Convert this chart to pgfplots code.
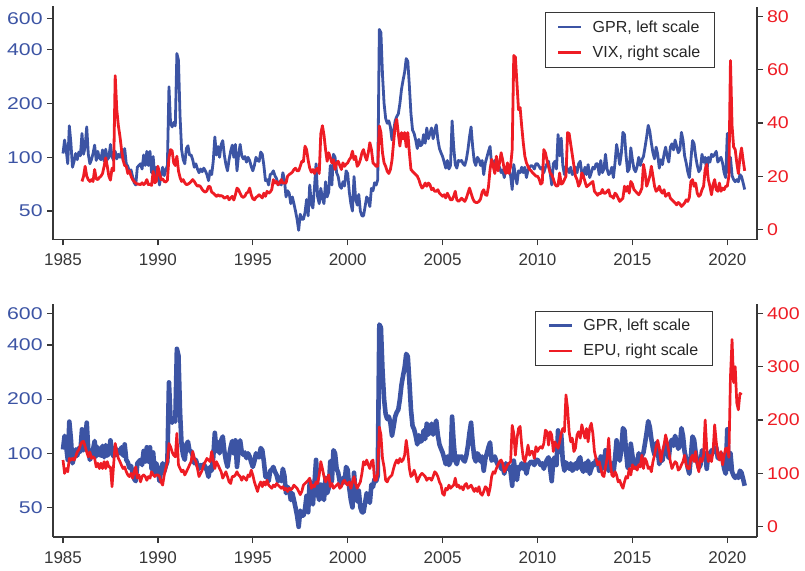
\documentclass[border=0pt]{standalone}
\usepackage{fontspec}
\setmainfont{Liberation Sans}
\usepackage{pgfplots}
\usepackage{pgfplotstable}
\pgfplotsset{compat=1.18}
\definecolor{gprblue}{RGB}{60,84,164}
\definecolor{vixred}{RGB}{238,28,36}
\definecolor{axgray}{RGB}{55,55,55}

% GPR index, monthly, Jan 1985 - Dec 2020
\pgfplotstableread[row sep=\\, header=false]{
105\\125\\110\\92\\150\\120\\88\\95\\105\\97\\107\\102\\
136\\104\\115\\148\\104\\92\\97\\105\\117\\96\\108\\99\\
97\\110\\95\\111\\97\\100\\118\\101\\96\\108\\98\\104\\
100\\108\\97\\112\\92\\89\\83\\85\\78\\72\\70\\88\\
90\\92\\86\\103\\90\\108\\90\\108\\82\\101\\78\\88\\
81\\70\\80\\88\\79\\85\\90\\248\\155\\148\\157\\150\\
381\\350\\170\\110\\97\\92\\112\\116\\103\\103\\97\\88\\
92\\86\\82\\86\\83\\87\\84\\80\\74\\84\\80\\95\\
130\\103\\115\\100\\118\\124\\103\\91\\84\\97\\108\\117\\
100\\118\\84\\103\\118\\102\\98\\101\\94\\100\\96\\89\\
84\\90\\100\\96\\95\\107\\104\\90\\74\\75\\70\\80\\
81\\84\\79\\76\\70\\73\\70\\82\\75\\60\\65\\63\\
55\\60\\55\\50\\45\\39\\48\\45\\45\\49\\58\\47\\
70\\55\\52\\68\\92\\60\\55\\67\\59\\55\\73\\60\\
64\\90\\70\\104\\100\\82\\78\\69\\67\\73\\69\\84\\
81\\64\\55\\50\\78\\59\\54\\62\\50\\47\\47\\53\\
60\\58\\53\\67\\65\\72\\70\\75\\520\\500\\290\\200\\
165\\155\\160\\148\\125\\140\\160\\169\\175\\200\\240\\270\\
300\\357\\345\\250\\175\\142\\136\\125\\112\\126\\116\\118\\
134\\120\\146\\127\\136\\146\\127\\140\\152\\126\\112\\106\\
101\\94\\87\\96\\86\\90\\160\\115\\91\\87\\96\\95\\
96\\92\\90\\97\\110\\130\\148\\115\\95\\90\\100\\97\\
90\\96\\80\\93\\100\\108\\115\\91\\93\\96\\90\\86\\
88\\82\\85\\77\\88\\82\\85\\79\\66\\91\\79\\71\\
84\\82\\88\\82\\88\\77\\85\\88\\90\\89\\86\\92\\
92\\89\\86\\88\\82\\88\\92\\95\\82\\70\\92\\95\\
86\\134\\102\\128\\90\\80\\89\\86\\82\\88\\80\\82\\
88\\82\\92\\95\\82\\79\\88\\80\\91\\77\\82\\88\\
86\\92\\92\\80\\96\\82\\86\\104\\86\\80\\82\\88\\
77\\93\\118\\105\\91\\105\\138\\134\\102\\83\\86\\113\\
97\\86\\83\\89\\100\\90\\97\\101\\114\\130\\151\\140\\
120\\106\\98\\114\\104\\87\\97\\91\\104\\114\\101\\94\\
114\\119\\110\\125\\115\\106\\110\\138\\125\\102\\93\\83\\
77\\97\\124\\119\\101\\90\\83\\86\\104\\94\\100\\82\\
100\\94\\104\\101\\104\\108\\94\\97\\100\\93\\82\\77\\
136\\82\\100\\79\\75\\73\\75\\73\\80\\78\\72\\66\\
}\gprdata

% VIX, monthly, Jan 1986 - Dec 2020
\pgfplotstableread[row sep=\\, header=false]{
18\\20\\23.7\\20\\18.7\\18\\18.7\\18\\22.5\\19\\18.7\\19.5\\
20\\21\\23.7\\26.9\\23.7\\20\\18.5\\23\\22\\57.8\\45\\39\\
35\\30\\26\\24\\23.7\\21\\22\\20\\18.7\\18\\17.4\\17\\
17\\16.8\\17.5\\16.8\\17.4\\18.7\\16.8\\17\\16.5\\21.8\\17.5\\18\\
23.7\\21\\18.7\\19\\18\\17.8\\18.5\\27\\30\\29.5\\25\\24\\
27.5\\22\\19.5\\18\\18.7\\17.5\\16.8\\17\\17.4\\18\\18.7\\18\\
17\\16.2\\16.5\\16\\15\\14.3\\14\\14.5\\16.2\\16\\14\\13.6\\
13\\12.4\\13\\12.5\\12.7\\12.4\\11.7\\12\\12.4\\11.1\\11.8\\12.4\\
11\\13\\15.5\\14.9\\13.5\\12.4\\12\\12.5\\13.6\\14\\15.5\\13\\
11.5\\11.1\\12\\12.4\\13\\12.4\\11.8\\13.6\\12.4\\14.3\\13.6\\14\\
15\\18.7\\17.4\\18\\16.8\\17.4\\18.7\\17.4\\17.4\\17.4\\20\\20.6\\
21\\21.5\\22.5\\23\\22\\22\\23.7\\25.6\\25.5\\31.3\\30\\26\\
23\\21.5\\22.5\\21\\22.5\\23\\21\\36\\39\\35.5\\30\\25.6\\
28.8\\27\\25\\26.2\\22.5\\25\\25.6\\24\\22.5\\25\\23.7\\24.5\\
25\\26.2\\27\\29.4\\26.2\\27.5\\23.7\\24.5\\26.2\\28.8\\30\\27.5\\
26\\28.8\\32.6\\30\\25\\24.4\\23.7\\23.7\\38.9\\36.4\\28.8\\25\\
23.7\\21.8\\21\\22.5\\26\\32.6\\38.9\\41.4\\36\\31.3\\36.4\\34\\
36.4\\31\\36.4\\28.8\\22.5\\21.8\\21.2\\20.6\\20\\18.7\\16.8\\15.5\\
16.2\\17.4\\16.2\\17.4\\16.8\\14.9\\15.5\\14.3\\14.3\\14.9\\13.6\\13\\
12.4\\13\\11.8\\13.6\\12.4\\11.1\\11.1\\12.4\\14.3\\11.1\\10.5\\11\\
11.7\\11.1\\10.5\\11.7\\13.6\\15.5\\13.6\\11.7\\10.5\\10.1\\10.1\\10.5\\
11.4\\14\\14.9\\13\\12.8\\16\\22.5\\26.3\\23.7\\21\\27.5\\22\\
25\\28.8\\26\\22.5\\21\\25\\21\\23.7\\30\\65.4\\64.8\\55\\
45\\45.8\\38.9\\32.6\\27.5\\25\\23.7\\22.5\\22\\21.2\\20.6\\20\\
20\\19\\17\\17.5\\30\\28.8\\26\\23.5\\21.2\\20.5\\19\\17\\
16.2\\16.5\\21.2\\17\\17.4\\18.7\\20\\36.4\\36\\32\\28\\24\\
20\\18.7\\16.2\\17.5\\21.2\\20\\18\\16\\16.5\\17\\17.5\\18\\
14.3\\13.6\\12.8\\13.6\\13.4\\15\\13.6\\13.6\\14.3\\14.9\\12.4\\12.4\\
11.7\\13.6\\13\\11.7\\10.5\\11.1\\11.7\\16.2\\14.3\\16.2\\13.6\\18\\
17\\14.9\\14.3\\13.6\\13\\14\\15.5\\24.4\\21.2\\16.2\\18\\20\\
23.7\\20\\16.2\\14.3\\14.9\\16.2\\14.3\\13.6\\14.9\\12.4\\13\\13.6\\
11.7\\11.1\\10.5\\9.9\\9.2\\10.1\\9.6\\8.6\\9.2\\9.9\\11.1\\10.5\\
12\\18\\18.7\\16.2\\17.4\\13.6\\12.4\\13\\14.9\\16.2\\22.5\\24.4\\
18.7\\16.2\\13\\16.8\\18.7\\14.9\\14.3\\17.4\\14.3\\15.5\\14.9\\16.2\\
16.2\\20\\63.5\\39\\31\\30\\25\\21\\27\\30.6\\26\\22\\
}\vixdata

% EPU, monthly, Jan 1985 - Oct 2020
\pgfplotstableread[row sep=\\, header=false]{
125\\100\\109\\103\\128\\125\\128\\125\\131\\140\\144\\153\\
159\\160\\150\\140\\131\\140\\128\\131\\128\\112\\119\\109\\
119\\109\\122\\109\\122\\112\\112\\75\\116\\156\\140\\128\\
122\\115\\109\\112\\103\\97\\94\\100\\91\\103\\112\\91\\
97\\84\\94\\97\\94\\87\\94\\91\\103\\97\\94\\97\\
97\\94\\84\\78\\97\\109\\122\\156\\150\\140\\134\\131\\
175\\116\\109\\103\\106\\97\\103\\109\\116\\122\\141\\128\\
122\\109\\94\\100\\106\\116\\122\\128\\125\\122\\141\\125\\
109\\122\\116\\109\\103\\91\\97\\103\\94\\84\\81\\94\\
94\\97\\103\\97\\94\\87\\94\\91\\87\\97\\94\\106\\
97\\84\\75\\66\\78\\84\\75\\84\\78\\87\\78\\75\\
72\\78\\75\\81\\78\\75\\72\\75\\69\\72\\66\\72\\
69\\72\\78\\75\\72\\66\\60\\66\\78\\81\\84\\87\\
91\\72\\78\\75\\84\\81\\97\\122\\109\\94\\84\\91\\
97\\75\\81\\72\\75\\78\\81\\72\\75\\84\\87\\81\\
78\\84\\72\\84\\94\\81\\72\\78\\84\\100\\122\\116\\
125\\116\\109\\122\\125\\87\\87\\100\\187\\172\\128\\112\\
87\\84\\91\\94\\97\\109\\119\\125\\119\\128\\122\\125\\
134\\162\\140\\109\\94\\97\\106\\97\\84\\91\\97\\100\\
97\\94\\87\\91\\91\\87\\94\\103\\100\\94\\84\\78\\
62\\59\\72\\69\\78\\72\\75\\78\\91\\75\\78\\72\\
75\\69\\78\\81\\72\\75\\78\\72\\66\\72\\66\\75\\
62\\59\\66\\75\\72\\59\\72\\94\\103\\100\\109\\116\\
122\\125\\119\\103\\109\\116\\119\\122\\190\\175\\134\\165\\
184\\188\\153\\128\\122\\134\\153\\134\\141\\141\\128\\150\\
141\\147\\150\\147\\156\\181\\178\\153\\178\\172\\141\\159\\
153\\147\\159\\175\\184\\178\\247\\222\\178\\159\\166\\141\\
147\\172\\178\\166\\191\\178\\166\\184\\159\\185\\194\\175\\
141\\128\\116\\122\\109\\97\\94\\112\\128\\166\\122\\97\\
94\\103\\97\\84\\87\\78\\72\\84\\94\\91\\109\\97\\
116\\109\\112\\106\\116\\112\\134\\109\\128\\122\\109\\112\\
103\\122\\134\\150\\162\\147\\122\\141\\153\\172\\159\\141\\
122\\109\\116\\122\\119\\106\\109\\116\\122\\134\\116\\109\\
109\\128\\134\\122\\141\\116\\103\\128\\122\\134\\200\\147\\
122\\134\\122\\141\\191\\159\\134\\125\\141\\116\\134\\147\\
147\\130\\281\\351\\270\\300\\232\\219\\250\\247\\
}\epudata

\pgfplotsset{
  /pgf/number format/assume math mode=true,
  base/.style={
    scale only axis, width=704pt, height=233pt,
    xmin=1984.473, xmax=2021.565,
    axis line style={axgray, line width=1.2pt},
    tick style={axgray, line width=1.2pt},
    major tick length=6pt, tick align=outside,
    every tick label/.append style={font=\fontsize{17}{20}\selectfont},
  },
  leftax/.style={
    base, axis x line*=bottom, axis y line*=left,
    ytick={50,100,200,400,600}, yticklabels={50,100,200,400,600},
    yticklabel style={text=gprblue, xscale=1.25},
    xtick={1985,1990,1995,2000,2005,2010,2015,2020},
    xticklabels={1985,1990,1995,2000,2005,2010,2015,2020},
    xticklabel style={text=axgray, yshift=-5pt},
  },
  rightax/.style={
    base, axis x line=none, axis y line*=right,
    yticklabel style={text=vixred, xscale=1.15},
    legend image code/.code={\draw[##1, line width=2.2pt] (0pt,0pt) -- (23pt,0pt); \path (31pt,0pt);},
    legend cell align=left,
    legend style={draw=axgray, line width=0.9pt, anchor=north east,
      font=\fontsize{16}{19}\selectfont, text=black!85,
      inner xsep=12pt, inner ysep=6pt, row sep=8pt,
      nodes={inner sep=2pt}},
  },
}

\begin{document}
\begin{tikzpicture}
\useasboundingbox (0pt,0pt) rectangle (805pt,-570pt);
% ---------------- top panel ----------------
\begin{axis}[ymode=log, leftax, at={(53pt,-239.5pt)}, anchor=south west, ymin=34.66, ymax=698.9]
\addplot[gprblue, line width=2.8pt, line join=round] table[x expr=1985+\coordindex/12, y index=0]{\gprdata};
\end{axis}
\begin{axis}[rightax, at={(53pt,-239.5pt)}, anchor=south west, ymin=-3.84, ymax=83.84,
  ytick={0,20,40,60,80}, yticklabels={0,20,40,60,80},
  legend style={at={(0.940,0.975)}}]
\addlegendimage{gprblue}
\addlegendentry{GPR, left scale}
\addplot[vixred, line width=2.8pt, line join=round] table[x expr=1986+\coordindex/12, y index=0]{\vixdata};
\addlegendentry{VIX, right scale}
\end{axis}
% ---------------- bottom panel ----------------
\begin{axis}[ymode=log, leftax, at={(53pt,-537pt)}, anchor=south west, ymin=34.25, ymax=676]
\addplot[gprblue, line width=4.6pt, line join=round] table[x expr=1985+\coordindex/12, y index=0]{\gprdata};
\end{axis}
\begin{axis}[rightax, at={(53pt,-537pt)}, anchor=south west, ymin=-19.3, ymax=417.4,
  ytick={0,100,200,300,400}, yticklabels={0,100,200,300,400},
  legend style={at={(0.937,0.972)}}]
\addlegendimage{gprblue, legend image code/.code={\draw[gprblue, line width=3.6pt] (0pt,0pt) -- (23pt,0pt); \path (31pt,0pt);}}
\addlegendentry{GPR, left scale}
\addplot[vixred, line width=2.7pt, line join=round] table[x expr=1985+\coordindex/12, y index=0]{\epudata};
\addlegendentry{EPU, right scale}
\end{axis}
\end{tikzpicture}
\end{document}
